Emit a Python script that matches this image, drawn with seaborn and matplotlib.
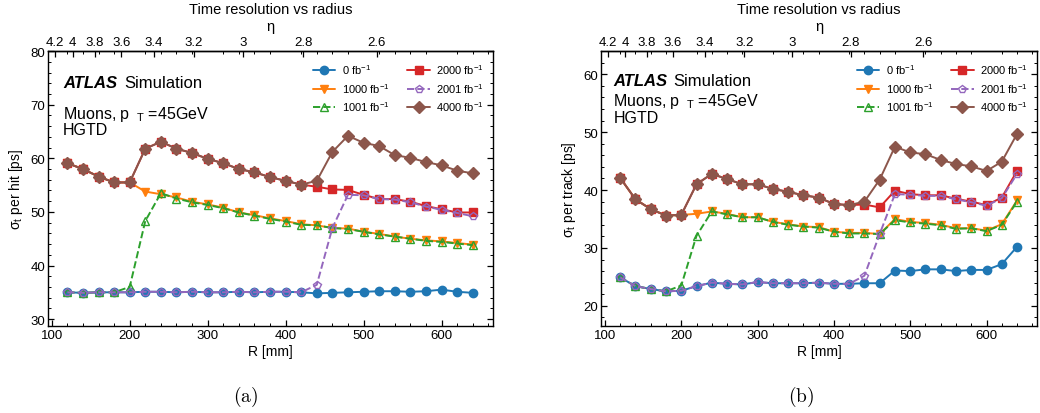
import numpy as np
import pandas as pd
import matplotlib
matplotlib.use("Agg")
import matplotlib.pyplot as plt
from matplotlib.ticker import MultipleLocator, NullLocator
import seaborn as sns

# ---------------- data ----------------
radius = [120, 140, 160, 180, 200, 220, 240, 260, 280, 300, 320, 340, 360, 380,
          400, 420, 440, 460, 480, 500, 520, 540, 560, 580, 600, 620, 640]

lumi_labels = ["0 fb$^{-1}$", "1000 fb$^{-1}$", "1001 fb$^{-1}$",
               "2000 fb$^{-1}$", "2001 fb$^{-1}$", "4000 fb$^{-1}$"]

# sigma_t per hit [ps]
hit_0 = [35.0, 34.9, 35.0, 35.0, 35.0, 35.1, 35.1, 35.0, 35.1, 35.0, 35.0, 35.1, 35.0, 35.1,
         35.1, 35.0, 34.8, 34.9, 35.0, 35.1, 35.2, 35.2, 35.1, 35.2, 35.5, 35.1, 34.9]
hit_1000 = [59.1, 58.0, 56.6, 55.5, 55.5, 53.8, 53.3, 52.7, 51.9, 51.4, 50.8, 49.9, 49.4, 48.8,
            48.3, 47.7, 47.5, 47.0, 46.9, 46.3, 45.9, 45.4, 45.0, 44.7, 44.5, 44.2, 43.9]
hit_1001 = [35.0, 34.9, 35.0, 35.0, 36.0, 48.3, 53.5, 52.5, 51.8, 51.3, 50.7, 49.9, 49.3, 48.7,
            48.2, 47.6, 47.5, 47.0, 46.8, 46.3, 45.8, 45.4, 45.0, 44.6, 44.4, 44.1, 43.8]
hit_2000 = [59.1, 58.0, 56.6, 55.5, 55.5, 61.8, 63.1, 61.8, 61.0, 59.9, 59.1, 58.0, 57.4, 56.5,
            55.8, 55.1, 54.7, 54.2, 54.1, 53.2, 52.4, 52.4, 51.9, 51.1, 50.5, 49.9, 49.9]
hit_2001 = [35.0, 34.9, 35.0, 35.0, 35.0, 35.1, 35.1, 35.0, 35.1, 35.0, 35.0, 35.1, 35.0, 35.1,
            35.1, 35.0, 36.4, 47.0, 53.2, 53.1, 52.4, 52.3, 51.8, 51.0, 50.4, 49.8, 49.2]
hit_4000 = [59.1, 58.0, 56.6, 55.5, 55.5, 61.8, 63.1, 61.8, 61.0, 59.9, 59.1, 58.0, 57.4, 56.5,
            55.8, 55.1, 55.8, 61.2, 64.2, 62.9, 62.3, 60.6, 60.1, 59.3, 58.7, 57.7, 57.2]

# sigma_t per track [ps]
trk_0 = [24.9, 23.4, 22.9, 22.5, 22.6, 23.4, 24.0, 23.8, 23.7, 24.1, 23.9, 23.9, 23.9, 24.0,
         23.8, 23.8, 23.9, 23.9, 26.1, 26.0, 26.3, 26.3, 26.0, 26.2, 26.2, 27.2, 30.2]
trk_1000 = [42.1, 38.4, 36.7, 35.6, 35.7, 35.9, 36.3, 35.9, 35.3, 35.3, 34.5, 34.1, 33.7, 33.6,
            32.8, 32.6, 32.6, 32.4, 35.0, 34.5, 34.3, 34.0, 33.4, 33.4, 33.0, 34.1, 38.2]
trk_1001 = [24.9, 23.4, 22.9, 22.5, 23.5, 32.1, 36.3, 35.8, 35.3, 35.3, 34.5, 34.0, 33.7, 33.5,
            32.8, 32.5, 32.5, 32.4, 34.8, 34.4, 34.2, 33.9, 33.3, 33.4, 32.9, 34.0, 38.0]
trk_2000 = [42.1, 38.4, 36.7, 35.6, 35.7, 41.0, 42.8, 41.9, 41.0, 41.0, 40.2, 39.7, 39.1, 38.7,
            37.6, 37.4, 37.5, 37.0, 39.9, 39.3, 39.1, 39.1, 38.5, 38.0, 37.4, 38.7, 43.3]
trk_2001 = [24.9, 23.4, 22.9, 22.5, 22.6, 23.4, 24.0, 23.8, 23.7, 24.1, 23.9, 23.9, 23.9, 24.0,
            23.8, 23.8, 25.2, 32.4, 39.3, 39.2, 39.0, 39.0, 38.4, 37.9, 37.3, 38.6, 42.8]
trk_4000 = [42.1, 38.4, 36.7, 35.6, 35.7, 41.0, 42.8, 41.9, 41.0, 41.0, 40.2, 39.7, 39.1, 38.7,
            37.6, 37.4, 38.0, 41.8, 47.5, 46.5, 46.2, 45.2, 44.5, 44.1, 43.3, 44.9, 49.7]

eta_ticks = [4.2, 4.0, 3.8, 3.6, 3.4, 3.2, 3.0, 2.8, 2.6]
eta_tick_labels = ["4.2", "4", "3.8", "3.6", "3.4", "3.2", "3", "2.8", "2.6"]

# ---------------- style ----------------
sns.set_theme(style="ticks")
plt.rcParams["font.family"] = ["Liberation Sans", "DejaVu Sans"]
plt.rcParams["mathtext.default"] = "regular"
plt.rcParams["axes.linewidth"] = 1.0
for key in ("text.color", "axes.labelcolor", "axes.edgecolor", "xtick.color", "ytick.color"):
    plt.rcParams[key] = "black"

palette = sns.color_palette("tab10")
series_style = [
    dict(color=palette[0], marker="o", linestyle="-", mfc=palette[0]),
    dict(color=palette[1], marker="v", linestyle="-", mfc=palette[1]),
    dict(color=palette[2], marker="^", linestyle="--", mfc="none"),
    dict(color=palette[3], marker="s", linestyle="-", mfc=palette[3]),
    dict(color=palette[4], marker="p", linestyle="--", mfc="none"),
    dict(color=palette[5], marker="D", linestyle="-", mfc=palette[5]),
]

Z_HGTD = 3460.0  # longitudinal position used for the R -> eta conversion [mm]


def r_to_eta(r):
    r = np.clip(np.asarray(r, dtype=float), 1.0, None)
    return -np.log(np.tan(np.arctan(r / Z_HGTD) / 2.0))


def eta_to_r(eta):
    eta = np.asarray(eta, dtype=float)
    return Z_HGTD * np.tan(2.0 * np.arctan(np.exp(-eta)))


def make_frame(series):
    frames = []
    for lab, vals in zip(lumi_labels, series):
        frames.append(pd.DataFrame({"R": radius, "sigma": vals, "lumi": lab}))
    return pd.concat(frames, ignore_index=True)


def draw_panel(ax, df, ylabel, ylim, ymajor, text_rows):
    for lab, st in zip(lumi_labels, series_style):
        sub = df[df["lumi"] == lab]
        sns.lineplot(data=sub, x="R", y="sigma", ax=ax, errorbar=None, sort=False,
                     color=st["color"], marker=st["marker"], linestyle=st["linestyle"],
                     markerfacecolor=st["mfc"], markeredgecolor=st["color"],
                     markeredgewidth=1.0, markersize=6, linewidth=1.4, label=lab)

    ax.set_xlim(95, 666)
    ax.set_ylim(*ylim)
    ax.xaxis.set_major_locator(MultipleLocator(100))
    ax.xaxis.set_minor_locator(MultipleLocator(20))
    ax.yaxis.set_major_locator(MultipleLocator(ymajor))
    ax.yaxis.set_minor_locator(MultipleLocator(2))
    ax.tick_params(which="both", direction="in", right=True, labelsize=9.5, pad=2)
    ax.tick_params(which="major", length=4, width=0.9)
    ax.tick_params(which="minor", length=2.2, width=0.7, top=True)
    ax.set_xlabel("R [mm]", fontsize=10, labelpad=2)
    ax.set_ylabel(ylabel, fontsize=10, labelpad=4)

    sec = ax.secondary_xaxis("top", functions=(r_to_eta, eta_to_r))
    sec.set_xticks(eta_ticks, labels=eta_tick_labels)
    sec.xaxis.set_minor_locator(NullLocator())
    sec.tick_params(direction="in", length=4, width=0.9, labelsize=9.5, pad=2)

    ax.text(0.5, 1.092, "η", transform=ax.transAxes, ha="center", va="center", fontsize=10.5)
    ax.text(0.5, 1.155, "Time resolution vs radius", transform=ax.transAxes,
            ha="center", va="center", fontsize=10.5)

    (x0, y_atlas), (_, y_muon), (_, y_hgtd) = text_rows
    ax.text(x0, y_atlas, "ATLAS", transform=ax.transAxes, ha="left", va="center",
            fontsize=12, fontweight="bold", fontstyle="italic")
    ax.text(x0 + 0.138, y_atlas, "Simulation", transform=ax.transAxes, ha="left",
            va="center", fontsize=12)
    ax.text(x0, y_muon, r"Muons, p$_{\ \ T}$ =45GeV", transform=ax.transAxes,
            ha="left", va="center", fontsize=11.5)
    ax.text(x0, y_hgtd, "HGTD", transform=ax.transAxes, ha="left", va="center",
            fontsize=11.5)

    handles, labels = ax.get_legend_handles_labels()
    ax.legend(handles, labels, ncol=2, loc="upper right", bbox_to_anchor=(0.995, 0.985),
              frameon=False, fontsize=8, handlelength=2.0, handletextpad=0.6,
              columnspacing=1.6, labelspacing=0.45, borderaxespad=0.2)


fig = plt.figure(figsize=(10.4, 4.14), dpi=100)
ax_hit = fig.add_axes([0.046, 0.21, 0.428, 0.664])
ax_trk = fig.add_axes([0.578, 0.21, 0.419, 0.664])

draw_panel(ax_hit, make_frame([hit_0, hit_1000, hit_1001, hit_2000, hit_2001, hit_4000]),
           "σ$_t$ per hit [ps]", (28.7, 80), 10,
           [(0.034, 0.885), (0.034, 0.775), (0.034, 0.715)])
draw_panel(ax_trk, make_frame([trk_0, trk_1000, trk_1001, trk_2000, trk_2001, trk_4000]),
           "σ$_t$ per track [ps]", (16.5, 64), 10,
           [(0.028, 0.895), (0.028, 0.82), (0.028, 0.76)])

fig.text(0.236, 0.042, r"$\mathrm{(a)}$", ha="center", va="center", fontsize=14,
         math_fontfamily="cm")
fig.text(0.77, 0.042, r"$\mathrm{(b)}$", ha="center", va="center", fontsize=14,
         math_fontfamily="cm")

fig.savefig("out.png", dpi=100)
